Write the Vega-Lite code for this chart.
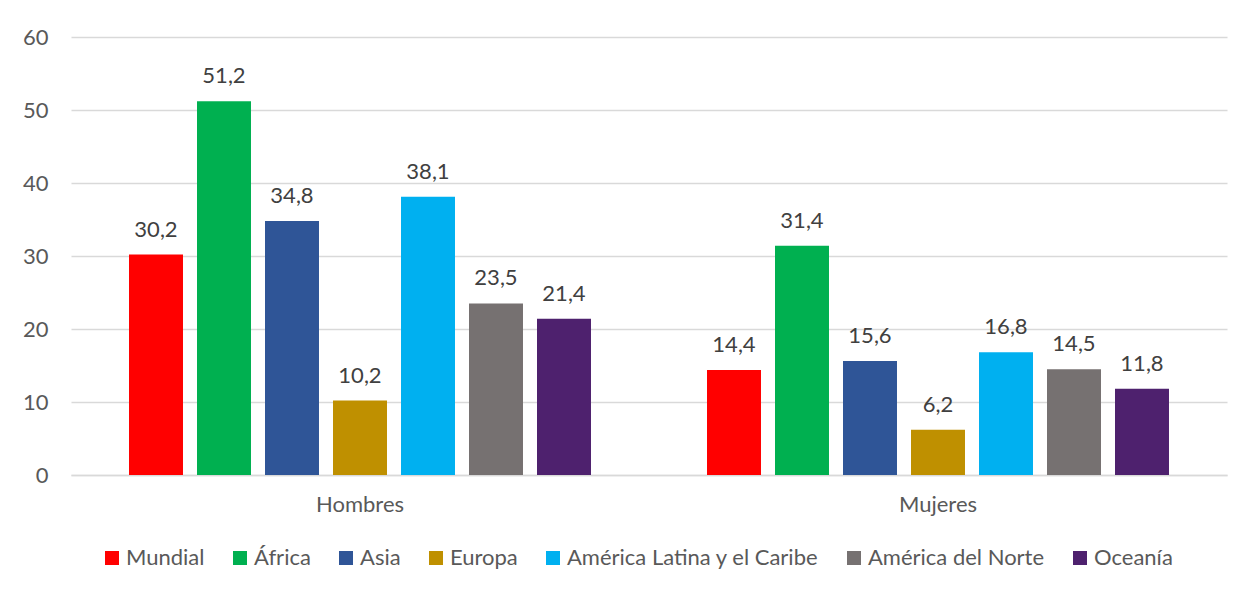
{
  "$schema": "https://vega.github.io/schema/vega-lite/v6.json",
  "width": 1156,
  "height": 438,
  "autosize": "none",
  "padding": {"left": 71, "top": 37, "right": 26, "bottom": 115},
  "background": "white",
  "config": {
    "locale": {"number": {"decimal": ",", "thousands": ".", "grouping": [3], "currency": ["", " €"]}},
    "view": {"stroke": null},
    "font": "Lato",
    "axis": {"labelFont": "Lato", "labelColor": "#595959", "labelFontSize": 22}
  },
  "data": {
    "values": [
      {"grupo": "Hombres", "region": "Mundial", "valor": 30.2},
      {"grupo": "Hombres", "region": "África", "valor": 51.2},
      {"grupo": "Hombres", "region": "Asia", "valor": 34.8},
      {"grupo": "Hombres", "region": "Europa", "valor": 10.2},
      {"grupo": "Hombres", "region": "América Latina y el Caribe", "valor": 38.1},
      {"grupo": "Hombres", "region": "América del Norte", "valor": 23.5},
      {"grupo": "Hombres", "region": "Oceanía", "valor": 21.4},
      {"grupo": "Mujeres", "region": "Mundial", "valor": 14.4},
      {"grupo": "Mujeres", "region": "África", "valor": 31.4},
      {"grupo": "Mujeres", "region": "Asia", "valor": 15.6},
      {"grupo": "Mujeres", "region": "Europa", "valor": 6.2},
      {"grupo": "Mujeres", "region": "América Latina y el Caribe", "valor": 16.8},
      {"grupo": "Mujeres", "region": "América del Norte", "valor": 14.5},
      {"grupo": "Mujeres", "region": "Oceanía", "valor": 11.8}
    ]
  },
  "encoding": {
    "x": {
      "field": "grupo", "type": "nominal", "sort": null,
      "scale": {"paddingInner": 0, "paddingOuter": 0},
      "axis": {"title": null, "labelAngle": 0, "ticks": false, "domain": true, "domainColor": "#d9d9d9", "domainWidth": 1.5, "labelPadding": 19, "labelFontSize": 22}
    },
    "xOffset": {
      "field": "region", "type": "nominal", "sort": null,
      "scale": {"paddingInner": 0.206, "paddingOuter": 0.853}
    },
    "y": {
      "field": "valor", "type": "quantitative",
      "scale": {"domain": [0, 60]},
      "axis": {"title": null, "values": [0, 10, 20, 30, 40, 50, 60], "labelOverlap": false, "labelFlush": false, "domain": false, "ticks": false, "labelPadding": 23, "gridColor": "#d9d9d9", "gridWidth": 1.5}
    }
  },
  "layer": [
    {
      "mark": {"type": "bar"},
      "encoding": {
        "color": {
          "field": "region", "type": "nominal", "sort": null,
          "scale": {
            "domain": ["Mundial", "África", "Asia", "Europa", "América Latina y el Caribe", "América del Norte", "Oceanía"],
            "range": ["#ff0000", "#00b050", "#2f5597", "#bf9000", "#00b0f0", "#767171", "#4e216e"]
          },
          "legend": {
            "title": null, "orient": "none", "direction": "horizontal",
            "legendX": 30, "legendY": 510, "padding": 0,
            "symbolType": "square", "symbolSize": 196, "symbolStrokeWidth": 0, "symbolOpacity": 1,
            "labelFont": "Lato", "labelFontSize": 22, "labelColor": "#595959",
            "labelOffset": 3, "columnPadding": 24, "labelLimit": 400
          }
        }
      }
    },
    {
      "mark": {"type": "text", "baseline": "alphabetic", "dy": -18, "font": "Lato", "fontSize": 22, "color": "#404040"},
      "encoding": {
        "text": {"field": "valor", "type": "quantitative", "format": ".1f"}
      }
    }
  ]
}
